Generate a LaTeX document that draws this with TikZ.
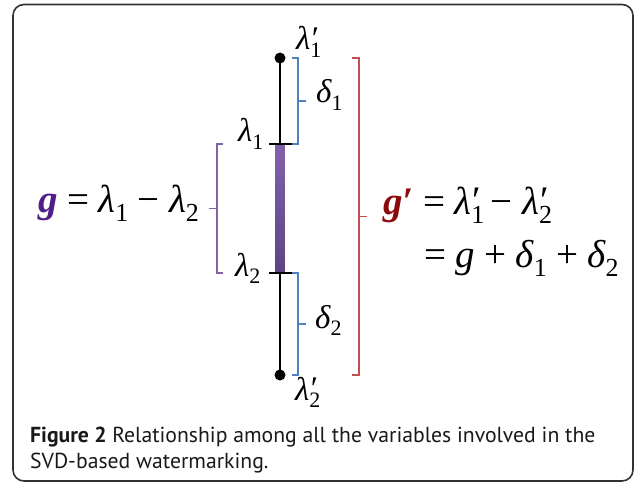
\documentclass[tikz,border=0pt]{standalone}
\usepackage{fontspec}
\setmainfont{Liberation Serif}
\newfontfamily\capfont{PT Sans}
\usetikzlibrary{calc}
\definecolor{gpurple}{RGB}{80,30,135}
\definecolor{gred}{RGB}{140,10,10}
\definecolor{brpurple}{RGB}{128,100,162}
\definecolor{brblue}{RGB}{79,129,189}
\definecolor{brred}{RGB}{192,80,77}
\definecolor{bartop}{RGB}{130,98,172}
\definecolor{barbot}{RGB}{94,68,132}
\definecolor{framecol}{RGB}{50,50,50}
\newcommand{\subsz}{22}
\newcommand{\Vl}{{\itshape λ}}
\newcommand{\Vd}{{\itshape δ}}
\newcommand{\Vg}{{\itshape g}}
\newcommand{\sbx}[1]{\raisebox{-0.24em}{\fontsize{\subsz}{\subsz}\selectfont #1}}
\newcommand{\psb}[1]{\makebox[0pt][l]{\kern0.04em\raisebox{0.02em}{′}}\sbx{#1}}
\newcommand{\gap}{\hspace{0.24em}}
\begin{document}
\begin{tikzpicture}[x=1pt,y=-1pt,
  lab/.style={inner sep=0pt,anchor=base west,font=\renewcommand{\subsz}{22}\fontsize{33}{33}\selectfont},
  eqn/.style={inner sep=0pt,anchor=base west,font=\renewcommand{\subsz}{26}\fontsize{39}{39}\selectfont},
  brk/.style={line width=1.2pt,line join=miter},
  capline/.style={inner sep=0pt,anchor=base west,font=\capfont\fontsize{21.7}{26}\selectfont,text=black!90}]
\useasboundingbox (0,0) rectangle (637,484);
\draw[framecol,line width=1.6pt,rounded corners=11pt] (13,4.5) rectangle (633,481);
% axis
\coordinate (top) at (280,58);
\coordinate (bot) at (280,375);
\coordinate (a1) at (280,144);
\coordinate (a2) at (280,273);
\draw[line width=1.5pt] (top) -- (bot);
\shade[top color=bartop,bottom color=barbot] ($(a1)+(-4.3,0)$) rectangle ($(a2)+(4.3,0)$);
\draw[line width=1.4pt] ($(a1)+(-11,0)$) -- ($(a1)+(12,0)$);
\draw[line width=1.4pt] ($(a2)+(-11,0)$) -- ($(a2)+(12,0)$);
\fill (top) circle (5.5);
\fill (bot) circle (5.5);
% brackets
\draw[brk,brblue] ($(top)+(12,0)$) -| ($(a1)+(18,0)$) -- ($(a1)+(12,0)$);
\draw[brk,brblue] ($(top)!0.5!(a1)+(18,0)$) -- ++(8,0);
\draw[brk,brblue] ($(a2)+(12,0)$) -| ($(bot)+(18,0)$) -- ($(bot)+(12,0)$);
\draw[brk,brblue] ($(a2)!0.5!(bot)+(18,0)$) -- ++(8,0);
\draw[brk,brpurple] ($(a1)+(-57,0)$) -| ($(a2)+(-63,0)$) -- ($(a2)+(-57,0)$);
\draw[brk,brpurple] ($(a1)!0.5!(a2)+(-63,0)$) -- ++(-8,0);
\draw[brk,brred] ($(top)+(72,0)$) -| ($(bot)+(79,0)$) -- ($(bot)+(72,0)$);
\draw[brk,brred] ($(top)!0.5!(bot)+(79,0)$) -- ++(8,0);
% labels
\node[lab] (l1p) at (296,50) {\Vl\psb{1}};
\node[lab] (d1) at (316,103) {\Vd\sbx{1}};
\node[lab] (l1) at (238,142) {\Vl\sbx{1}};
\node[lab] (l2) at (235,276) {\Vl\sbx{2}};
\node[lab] (d2) at (315,328) {\Vd\sbx{2}};
\node[lab] (l2p) at (295,400) {\Vl\psb{2}};
% equations
\node[eqn] (eqg) at (38,212) {{\bfseries\itshape\color{gpurple}g}\gap=\gap\Vl\sbx{1}\gap−\gap\Vl\sbx{2}};
\node[eqn] (eqgp) at (383,214) {{\bfseries\itshape\color{gred}g′}\gap=\gap\Vl\psb{1}\,−\gap\Vl\psb{2}};
\node[eqn] (eqgp2) at (424,267) {=\gap\Vg\gap+\gap\Vd\sbx{1}\gap+\gap\Vd\sbx{2}};
% caption
\node[capline] (cap1) at (30,442) {\bfseries Figure 2 \mdseries Relationship among all the variables involved in the};
\node[capline] (cap2) at (30,468) {SVD-based watermarking.};
\end{tikzpicture}
\end{document}
